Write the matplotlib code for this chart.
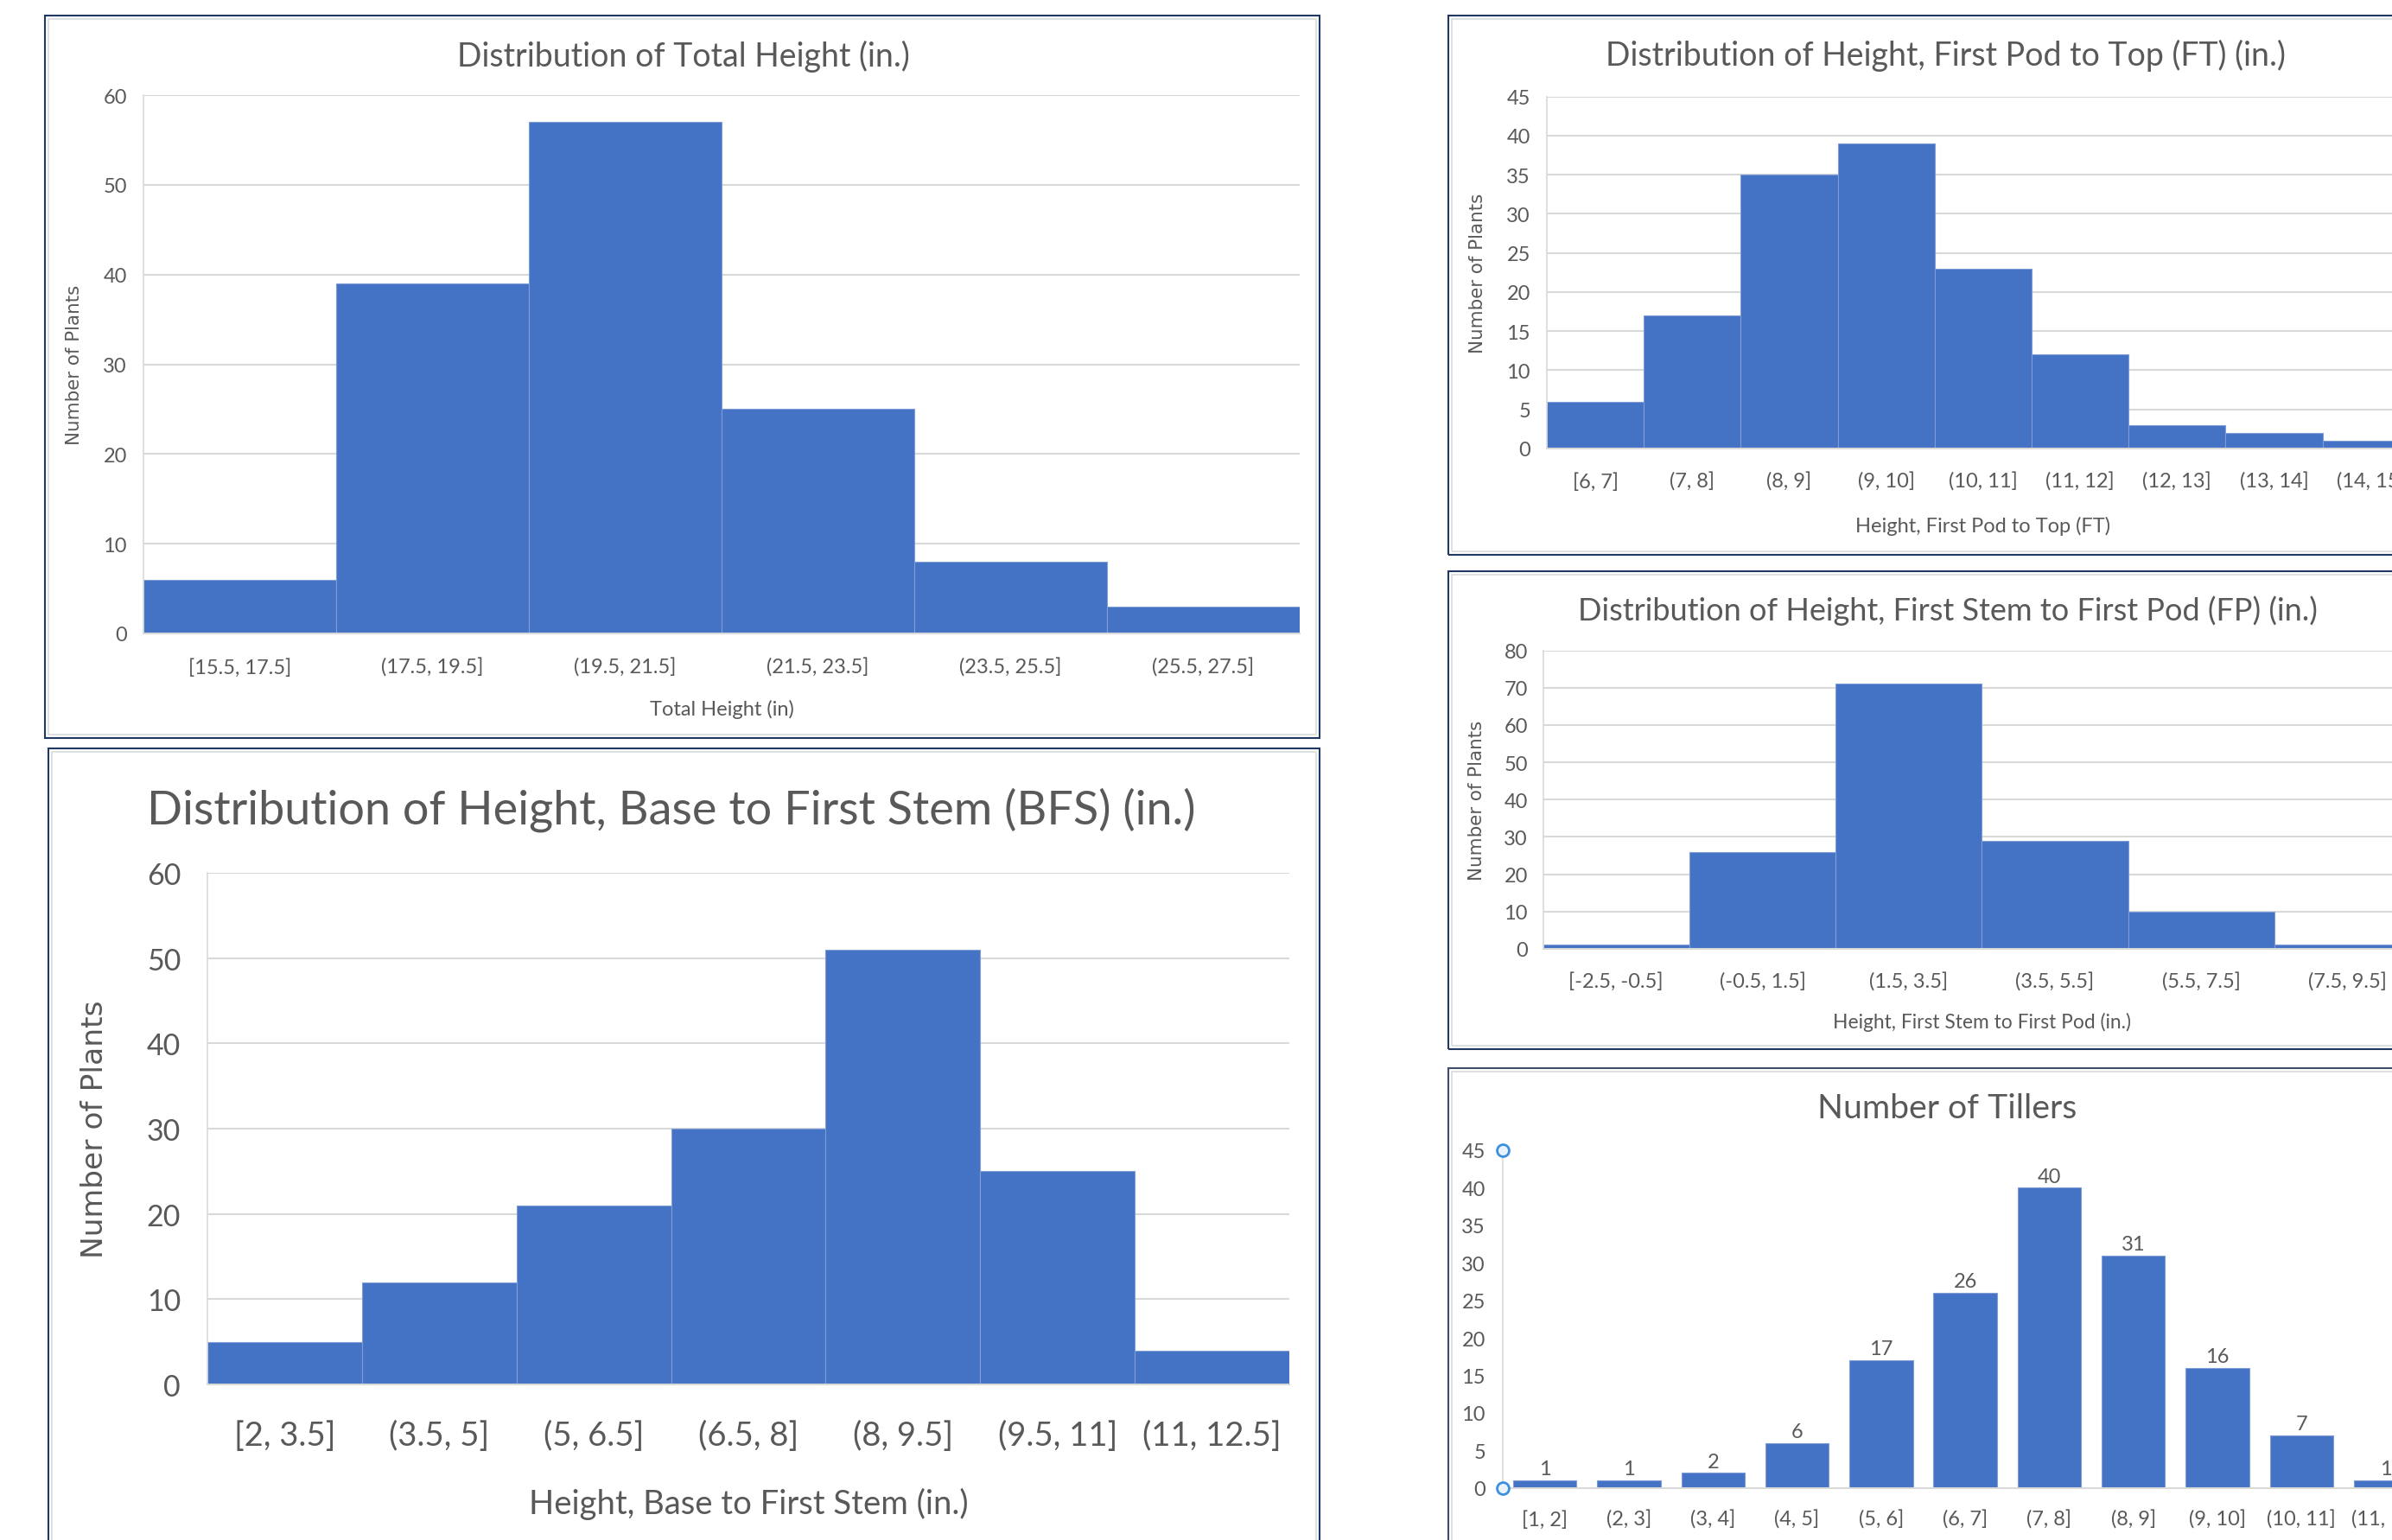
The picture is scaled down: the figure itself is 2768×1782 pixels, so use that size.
import matplotlib
matplotlib.use("Agg")
import matplotlib.pyplot as plt
from matplotlib.patches import Rectangle

# ---------------- data ----------------
th_bins = ['[15.5, 17.5]', '(17.5, 19.5]', '(19.5, 21.5]', '(21.5, 23.5]', '(23.5, 25.5]', '(25.5, 27.5]']
th_counts = [6, 39, 57, 25, 8, 3]

bfs_bins = ['[2, 3.5]', '(3.5, 5]', '(5, 6.5]', '(6.5, 8]', '(8, 9.5]', '(9.5, 11]', '(11, 12.5]']
bfs_counts = [5, 12, 21, 30, 51, 25, 4]

ft_bins = ['[6, 7]', '(7, 8]', '(8, 9]', '(9, 10]', '(10, 11]', '(11, 12]', '(12, 13]', '(13, 14]', '(14, 15]']
ft_counts = [6, 17, 35, 39, 23, 12, 3, 2, 1]

fp_bins = ['[-2.5, -0.5]', '(-0.5, 1.5]', '(1.5, 3.5]', '(3.5, 5.5]', '(5.5, 7.5]', '(7.5, 9.5]']
fp_counts = [1, 26, 71, 29, 10, 1]

till_bins = ['[1, 2]', '(2, 3]', '(3, 4]', '(4, 5]', '(5, 6]', '(6, 7]', '(7, 8]', '(8, 9]', '(9, 10]', '(10, 11]', '(11, 12]']
till_counts = [1, 1, 2, 6, 17, 26, 40, 31, 16, 7, 1]

# ---------------- style ----------------
W, H = 2768, 1783
BAR = '#4472C4'
BAR_EDGE = '#7E9CD6'
GRID = '#D9D9D9'
TXT = '#595959'
NAVY = '#203864'
FONT = ['Lato', 'DejaVu Sans']
YFONT = ['DejaVu Sans']

plt.rcParams['font.family'] = FONT
fig = plt.figure(figsize=(W / 100, H / 100), dpi=100)
fig.patch.set_facecolor('white')


def rect(l, r, t, b):
    return [l / W, 1 - b / H, (r - l) / W, (b - t) / H]


def border(l, r, t, b, color=NAVY):
    fig.add_artist(Rectangle((l / W, 1 - b / H), (r - l) / W, (b - t) / H,
                             transform=fig.transFigure, fill=False,
                             edgecolor=color, linewidth=1.5, zorder=0))
    i = 4
    fig.add_artist(Rectangle(((l + i) / W, 1 - (b - i) / H), (r - l - 2 * i) / W, (b - t - 2 * i) / H,
                             transform=fig.transFigure, fill=False,
                             edgecolor='#DADADA', linewidth=1.2, zorder=0))


def title(x, y, s, size):
    fig.text(x / W, 1 - y / H, s, ha='center', va='baseline', fontsize=size,
             color=TXT, family=FONT, fontweight='normal')


def setup(ax, box, ylim, ystep, ysize, xsize, ypad_px, xpad_px, grid=True):
    l, r, t, b = box
    ax.set_ylim(0, ylim)
    ax.set_yticks(range(0, ylim + 1, ystep))
    ax.set_axisbelow(True)
    if grid:
        ax.yaxis.grid(True, color=GRID, linewidth=1.5)
    for s in ['top', 'right']:
        ax.spines[s].set_visible(False)
    ax.spines['bottom'].set_color(GRID)
    ax.spines['bottom'].set_linewidth(1.5)
    ax.spines['left'].set_color(GRID)
    ax.spines['left'].set_linewidth(1.2)
    ax.tick_params(axis='both', length=0, labelcolor=TXT)
    ax.tick_params(axis='y', pad=ypad_px * 0.72, labelsize=ysize)
    ax.tick_params(axis='x', pad=xpad_px * 0.72, labelsize=xsize)


def labels(ax, box, xlabel, xl_y, xl_size, ylabel, yl_x, yl_size):
    l, r, t, b = box
    if xlabel:
        ax.set_xlabel(xlabel, fontsize=xl_size, color=TXT, family=FONT)
        ax.xaxis.label.set_verticalalignment('center')
        ax.xaxis.set_label_coords(0.5, (b - xl_y) / (b - t))
    if ylabel:
        ax.set_ylabel(ylabel, fontsize=yl_size, color=TXT, family=YFONT)
        ax.yaxis.label.set_verticalalignment('center')
        ax.yaxis.set_label_coords((yl_x - l) / (r - l), 0.5)


def hist(box, cats, vals, ylim, ystep, ysize, xsize, ypad, xpad):
    ax = fig.add_axes(rect(*box))
    ax.bar(range(len(vals)), vals, width=1.0, color=BAR, edgecolor=BAR_EDGE, linewidth=0.8)
    ax.set_xlim(-0.5, len(vals) - 0.5)
    ax.set_xticks(range(len(cats)))
    ax.set_xticklabels(cats)
    setup(ax, box, ylim, ystep, ysize, xsize, ypad, xpad)
    return ax


# ---------------- panel borders ----------------
border(52, 1527, 19, 855)
border(56, 1527, 867, 1830)
border(1676, 2830, 19, 643)
border(1676, 2830, 662, 1215)
border(1676, 2830, 1237, 1830, color='#3F4E66')

# ---------------- Total Height ----------------
b1 = (166, 1504, 111, 734)
ax1 = hist(b1, th_bins, th_counts, 60, 10, 17, 17, 19, 28)
labels(ax1, b1, 'Total Height (in)', 821, 17, 'Number of Plants', 86, 15.4)
title(791, 77, 'Distribution of Total Height (in.)', 27)

# ---------------- Base to First Stem ----------------
b2 = (240, 1492, 1011, 1603)
ax2 = hist(b2, bfs_bins, bfs_counts, 60, 10, 24.5, 27.5, 31, 41)
labels(ax2, b2, 'Height, Base to First Stem (in.)', 1740, 27.5, 'Number of Plants', 110, 24.8)
title(777, 954, 'Distribution of Height, Base to First Stem (BFS) (in.)', 38.9)

# ---------------- First Pod to Top ----------------
b3 = (1790, 1790 + 9 * 112.2, 112.5, 520)
ax3 = hist(b3, ft_bins, ft_counts, 45, 5, 17, 17, 19, 27)
labels(ax3, b3, 'Height, First Pod to Top (FT)', 608.6, 17, 'Number of Plants', 1710, 15.4)
title(2251, 76, 'Distribution of Height, First Pod to Top (FT) (in.)', 27)

# ---------------- First Stem to First Pod ----------------
b4 = (1785.5, 1785.5 + 6 * 169.3, 753.6, 1098.8)
ax4 = hist(b4, fp_bins, fp_counts, 80, 10, 17, 17, 17.5, 26.6)
labels(ax4, b4, 'Height, First Stem to First Pod (in.)', 1182.7, 16.4, 'Number of Plants', 1708.5, 15.4)
title(2254, 718, 'Distribution of Height, First Stem to First Pod (FP) (in.)', 26)

# ---------------- Number of Tillers ----------------
b5 = (1739, 1739 + 11 * 97.3, 1332, 1722.7)
ax5 = fig.add_axes(rect(*b5))
xs = list(range(len(till_counts)))
bars = ax5.bar(xs, till_counts, width=0.755, color=BAR, edgecolor=BAR_EDGE, linewidth=0.8)
ax5.set_xlim(-0.5, len(till_counts) - 0.5)
ax5.set_xticks(xs)
ax5.set_xticklabels(till_bins)
setup(ax5, b5, 45, 5, 17, 17, 20, 25, grid=False)
ax5.bar_label(bars, labels=[str(v) for v in till_counts], padding=2, fontsize=17, color=TXT)
# selection handles on the vertical axis
ax5.plot([-0.5, -0.5], [0, 45], linestyle='none', marker='o', markersize=10,
         markerfacecolor='#EAF3FC', markeredgecolor='#3D8FE0', markeredgewidth=2, clip_on=False, zorder=5)
title(2253, 1294, 'Number of Tillers', 28.3)

fig.savefig('out.png', dpi=100, facecolor='white')
